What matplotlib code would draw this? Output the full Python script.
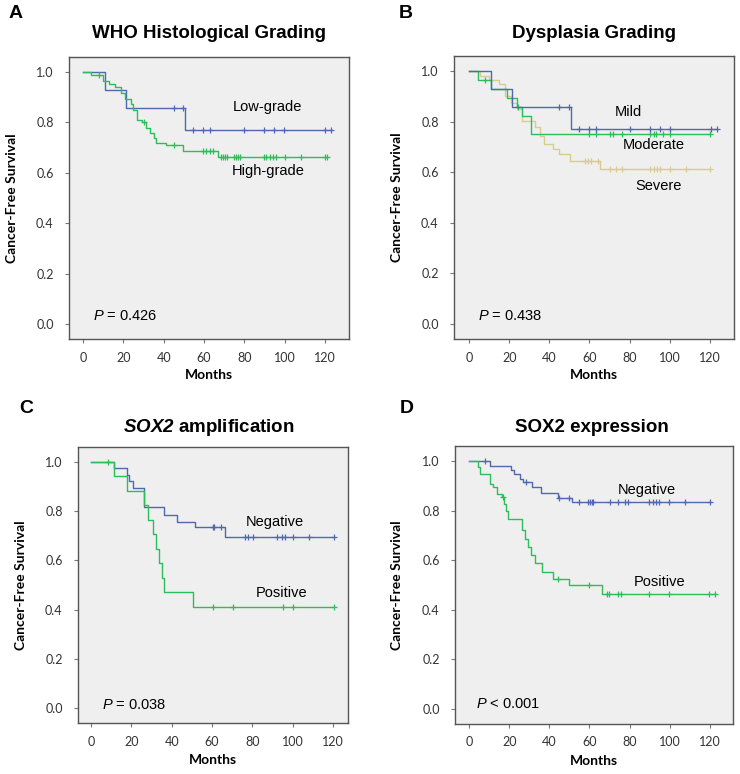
import matplotlib
matplotlib.use("Agg")
import matplotlib.pyplot as plt
import numpy as np

plt.rcParams["mathtext.fontset"] = "custom"
plt.rcParams["mathtext.rm"] = "Liberation Sans"
plt.rcParams["mathtext.it"] = "Liberation Sans:italic"
plt.rcParams["mathtext.bf"] = "Liberation Sans:bold"
plt.rcParams["mathtext.bfit"] = "Liberation Sans:bold:italic"

# colours (SPSS style)
BLUE = "#5068B0"
GREEN = "#2DBE5C"
TAN = "#D8CC92"

# A: WHO histological grading
a_low_t = [0, 11, 21.3, 50.6]
a_low_s = [1.0, 0.929, 0.857, 0.771]
a_low_c = [45, 49.4, 54.7, 59.6, 63, 80, 89.9, 94.7, 99.8, 120, 123]
a_high_t = [0, 4, 10, 13, 16, 19, 21, 24, 25, 27, 29, 31, 33, 35, 36, 41, 49.5, 67]
a_high_s = [1.0, 0.988, 0.965, 0.953, 0.94, 0.918, 0.895, 0.873, 0.85, 0.81, 0.80,
            0.78, 0.76, 0.74, 0.72, 0.71, 0.685, 0.664]
a_high_c = [8, 30, 45, 59.5, 61, 63, 64.5, 68.5, 69.5, 70.5, 71.5, 75, 76, 77, 78,
            90, 91, 93, 94.5, 96, 100, 108, 120, 121]

# B: dysplasia grading
b_mild_t = [0, 10.8, 21.3, 50.8]
b_mild_s = [1.0, 0.929, 0.857, 0.771]
b_mild_c = [45, 49.8, 55, 60, 63.2, 80.2, 90.1, 95.1, 100.1, 120.4, 123.4]
b_mod_t = [0, 4.6, 10.8, 18.8, 23.7, 26.2, 30.7]
b_mod_s = [1.0, 0.966, 0.93, 0.895, 0.857, 0.821, 0.75]
b_mod_c = [8, 24.4, 60, 63.2, 70.2, 71.9, 76, 90.1, 92.1, 93.1, 96.5, 100.1, 120]
b_sev_t = [0, 5.5, 10, 15, 18, 21, 24, 26.5, 33, 35.5, 37.2, 41.8, 44.6, 50.1, 65.2]
b_sev_s = [1.0, 0.98, 0.965, 0.95, 0.90, 0.875, 0.85, 0.804, 0.778, 0.744, 0.711,
           0.692, 0.672, 0.643, 0.613]
b_sev_c = [58, 59.5, 61, 64, 70, 73, 76, 90, 92, 93.5, 95, 100, 108, 120]

# C: SOX2 amplification
c_neg_t = [0, 11.4, 17.7, 19, 21, 26.3, 36.2, 42.5, 51.6, 66.4]
c_neg_s = [1.0, 0.974, 0.947, 0.92, 0.893, 0.816, 0.785, 0.757, 0.735, 0.696]
c_neg_c = [60.4, 61.2, 64.3, 76.4, 78, 80.5, 92.4, 94.5, 96.2, 100.3, 108.2, 120.6]
c_pos_t = [0, 11.4, 18, 26.3, 28, 30.5, 32.2, 33.8, 35.3, 36, 50.4]
c_pos_s = [1.0, 0.941, 0.882, 0.824, 0.765, 0.706, 0.647, 0.588, 0.529, 0.47, 0.41]
c_pos_c = [8.3, 60.3, 70.2, 95.3, 100.3, 120.6]

# D: SOX2 expression
d_neg_t = [0, 10.5, 20.7, 22.6, 25.4, 26.7, 31.2, 35.7, 44.5, 51.1]
d_neg_s = [1.0, 0.98, 0.963, 0.947, 0.929, 0.913, 0.893, 0.869, 0.851, 0.835]
d_neg_c = [8, 28.5, 44.8, 49.8, 55, 59.4, 60.3, 61.1, 61.9, 70.2, 74.4, 77.7, 79.3,
           89.8, 91.5, 93.1, 94.8, 99.8, 107.6, 120]
d_pos_t = [0, 4.6, 5.5, 10.5, 12, 14, 16.3, 17.5, 18.5, 19.6, 26.2, 28, 29.5, 31,
           32.9, 36.2, 42, 50, 66.1]
d_pos_s = [1.0, 0.976, 0.947, 0.907, 0.893, 0.867, 0.853, 0.827, 0.8, 0.767, 0.72,
           0.687, 0.653, 0.62, 0.587, 0.553, 0.523, 0.5, 0.464]
d_pos_c = [17, 44.5, 60, 68.9, 69.7, 74.4, 75.5, 89.8, 99.8, 119.5, 122.5]

TICK_FONT = "Lato"
TEXT_FONT = "Liberation Sans"


def km(ax, t, s, cens, color):
    t = np.asarray(t, float)
    s = np.asarray(s, float)
    end = max(cens[-1], t[-1])
    ax.step(np.r_[t, end], np.r_[s, s[-1]], where="post", color=color, lw=1.0)
    c = np.asarray(cens, float)
    cy = s[np.searchsorted(t, c, side="right") - 1]
    ax.plot(c, cy, ls="none", marker="+", ms=5, mew=0.9, color=color)


def setup(ax, xlim):
    ax.set_facecolor("#EFEFEF")
    for sp in ax.spines.values():
        sp.set_color("#555555")
        sp.set_linewidth(1.0)
    ax.set_xlim(*xlim)
    ax.set_ylim(-0.06, 1.06)
    ax.set_xticks(np.arange(0, 121, 20))
    ax.set_yticks(np.arange(0, 1.01, 0.2))
    ax.set_yticklabels([f"{v:.1f}" for v in np.arange(0, 1.01, 0.2)])
    ax.tick_params(direction="out", length=3, width=0.8, color="#777777",
                   labelsize=9, labelcolor="#333333")
    ax.tick_params(axis="y", pad=8)
    ax.tick_params(axis="x", pad=6)
    for lab in ax.get_xticklabels() + ax.get_yticklabels():
        lab.set_family(TICK_FONT)
    ax.set_xlabel("Months", fontsize=10, fontweight="bold", family=TICK_FONT)
    ax.set_ylabel("Cancer-Free Survival", fontsize=10, fontweight="bold", family=TICK_FONT)


def px(x, y):
    return x / 740, 1 - y / 774


fig = plt.figure(figsize=(7.4, 7.74), dpi=100)

axA = fig.add_axes([*px(69, 339), 280 / 740, 282 / 774])
axB = fig.add_axes([*px(454, 339), 280 / 740, 283 / 774])
axC = fig.add_axes([*px(78, 723), 270 / 740, 276 / 774])
axD = fig.add_axes([*px(455, 724), 278 / 740, 278 / 774])

setup(axA, (-7, 132))
setup(axB, (-7.5, 132))
setup(axC, (-6.5, 127.5))
setup(axD, (-7, 131.5))

km(axA, a_low_t, a_low_s, a_low_c, BLUE)
km(axA, a_high_t, a_high_s, a_high_c, GREEN)
km(axB, b_sev_t, b_sev_s, b_sev_c, TAN)
km(axB, b_mod_t, b_mod_s, b_mod_c, GREEN)
km(axB, b_mild_t, b_mild_s, b_mild_c, BLUE)
km(axC, c_neg_t, c_neg_s, c_neg_c, BLUE)
km(axC, c_pos_t, c_pos_s, c_pos_c, GREEN)
km(axD, d_neg_t, d_neg_s, d_neg_c, BLUE)
km(axD, d_pos_t, d_pos_s, d_pos_c, GREEN)

lab = dict(fontsize=10.5, family=TEXT_FONT, ha="center", va="center")
axA.text(91.7, 0.862, "Low-grade", **lab)
axA.text(91.7, 0.606, "High-grade", **lab)
axB.text(79.4, 0.84, "Mild", **lab)
axB.text(91.8, 0.708, "Moderate", **lab)
axB.text(94.3, 0.547, "Severe", **lab)
axC.text(91.2, 0.757, "Negative", **lab)
axC.text(94.5, 0.469, "Positive", **lab)
axD.text(88.5, 0.883, "Negative", **lab)
axD.text(95.1, 0.513, "Positive", **lab)

pv = dict(fontsize=10.5, family=TEXT_FONT, ha="left", va="center")
axA.text(5, 0.03, "$\\mathit{P}$ = 0.426", **pv)
axB.text(4.6, 0.03, "$\\mathit{P}$ = 0.438", **pv)
axC.text(5.3, 0.015, "$\\mathit{P}$ = 0.038", **pv)
axD.text(3.5, 0.02, "$\\mathit{P}$ < 0.001", **pv)

# label positions in axes fractions
axA.yaxis.set_label_coords(-0.182, 0.5)
axB.yaxis.set_label_coords(-0.182, 0.5)
axC.yaxis.set_label_coords(-0.189, 0.5)
axD.yaxis.set_label_coords(-0.187, 0.5)
axA.xaxis.set_label_coords(0.5, -0.106)
axB.xaxis.set_label_coords(0.5, -0.106)
axC.xaxis.set_label_coords(0.5, -0.112)
axD.xaxis.set_label_coords(0.5, -0.112)

tt = dict(fontsize=13.5, fontweight="bold", family=TEXT_FONT, ha="center", va="center")
fig.text(*px(209, 33), "WHO Histological Grading", **tt)
fig.text(*px(594, 33), "Dysplasia Grading", **tt)
fig.text(*px(209, 427), "$\\mathbfit{SOX2}$ amplification", **tt)
fig.text(*px(592, 428), "SOX2 expression", **tt)

let = dict(fontsize=14, fontweight="bold", family=TEXT_FONT, ha="left", va="center")
fig.text(*px(9, 14), "A", **let)
fig.text(*px(399, 14), "B", **let)
fig.text(*px(19, 408), "C", **let)
fig.text(*px(400, 408), "D", **let)

fig.savefig("out.png", dpi=100)
